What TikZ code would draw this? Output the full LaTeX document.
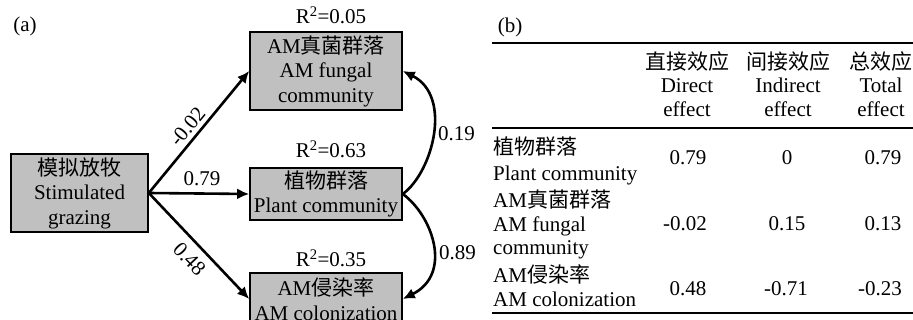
\documentclass[tikz,border=0pt]{standalone}
\usepackage{fontspec}
\setmainfont{Liberation Serif}
\newfontfamily\cjk{Noto Sans CJK SC}
\usetikzlibrary{arrows.meta}
\definecolor{boxgray}{RGB}{192,192,192}
\begin{document}
\begin{tikzpicture}[x=1pt,y=-1pt,
  every node/.style={font=\fontsize{21}{24.5}\selectfont},
  box/.style={draw=black, line width=1.6pt, fill=boxgray, align=center, inner sep=0pt},
  arr/.style={line width=2.6pt, -{Latex[length=12pt,width=11pt]}},
  lab/.style={inner sep=2pt},
  txt/.style={anchor=base, inner sep=0pt},
  rowtxt/.style={anchor=base west, inner sep=0pt}]
\useasboundingbox (0,0) rectangle (913,320);
\clip (0,0) rectangle (913,320);

% panel (a)
\node[txt] (pa) at (25,32) {(a)};
\node[box, minimum width=137pt, minimum height=78pt] (graze) at (79.5,193) {{\cjk 模拟放牧}\\Stimulated\\grazing};
\node[box, minimum width=152pt, minimum height=78pt] (fung) at (326,71) {AM{\cjk 真菌群落}\\AM fungal\\community};
\node[box, minimum width=152pt, minimum height=52pt] (plant) at (326,194) {{\cjk 植物群落}\\Plant community};
\node[box, minimum width=152pt, minimum height=52pt] (col) at (326,299) {AM{\cjk 侵染率}\\AM colonization};

\node[txt] (r1) at (331,24) {R\textsuperscript{2}=0.05};
\node[txt] (r2) at (331,158) {R\textsuperscript{2}=0.63};
\node[txt] (r3) at (331,267) {R\textsuperscript{2}=0.35};

\draw[arr] (graze.east) -- node[lab, sloped, above=2pt, pos=0.48] {-0.02} (fung.west);
\draw[arr] (graze.east) -- node[lab, above=4pt, pos=0.53] {0.79} (plant.west);
\draw[arr] (graze.east) -- node[lab, sloped, below=5.5pt, pos=0.52] {0.48} (col.west);

\draw[arr] (plant.east) .. controls +(30,-22) and +(50,25) .. node[pos=0.5, anchor=west, inner sep=0pt, xshift=4pt] {0.19} (fung.east);
\draw[arr] (plant.east) .. controls +(30,22) and +(50,-25) .. node[pos=0.5, anchor=west, inner sep=0pt, xshift=5pt, yshift=-7pt] {0.89} (col.east);

% panel (b)
\node[txt] (pb) at (510,33) {(b)};
\draw[line width=2pt] (492,43.3) -- (913,43.3);
\draw[line width=1.6pt] (492,128.3) -- (913,128.3);
\draw[line width=2pt] (492,313.3) -- (913,313.3);

\node[txt] (h1a) at (687,69.5) {{\cjk 直接效应}};
\node[txt] (h1b) at (687,93) {Direct};
\node[txt] (h1c) at (687,117) {effect};
\node[txt] (h2a) at (788,69.5) {{\cjk 间接效应}};
\node[txt] (h2b) at (788,93) {Indirect};
\node[txt] (h2c) at (788,117) {effect};
\node[txt] (h3a) at (881,69.5) {{\cjk 总效应}};
\node[txt] (h3b) at (881,93) {Total};
\node[txt] (h3c) at (881,117) {effect};

\node[rowtxt] (l1a) at (493,155) {{\cjk 植物群落}};
\node[rowtxt] (l1b) at (493,181) {Plant community};
\node[rowtxt] (l2a) at (493,208) {AM{\cjk 真菌群落}};
\node[rowtxt] (l2b) at (493,232) {AM fungal};
\node[rowtxt] (l2c) at (493,255) {community};
\node[rowtxt] (l3a) at (493,283) {AM{\cjk 侵染率}};
\node[rowtxt] (l3b) at (493,307) {AM colonization};

\node[txt] (v11) at (688,165) {0.79};
\node[txt] (v12) at (787,165) {0};
\node[txt] (v13) at (883,165) {0.79};
\node[txt] (v21) at (685,231) {-0.02};
\node[txt] (v22) at (787,231) {0.15};
\node[txt] (v23) at (883,231) {0.13};
\node[txt] (v31) at (688,296) {0.48};
\node[txt] (v32) at (786,296) {-0.71};
\node[txt] (v33) at (880,296) {-0.23};
\end{tikzpicture}
\end{document}
